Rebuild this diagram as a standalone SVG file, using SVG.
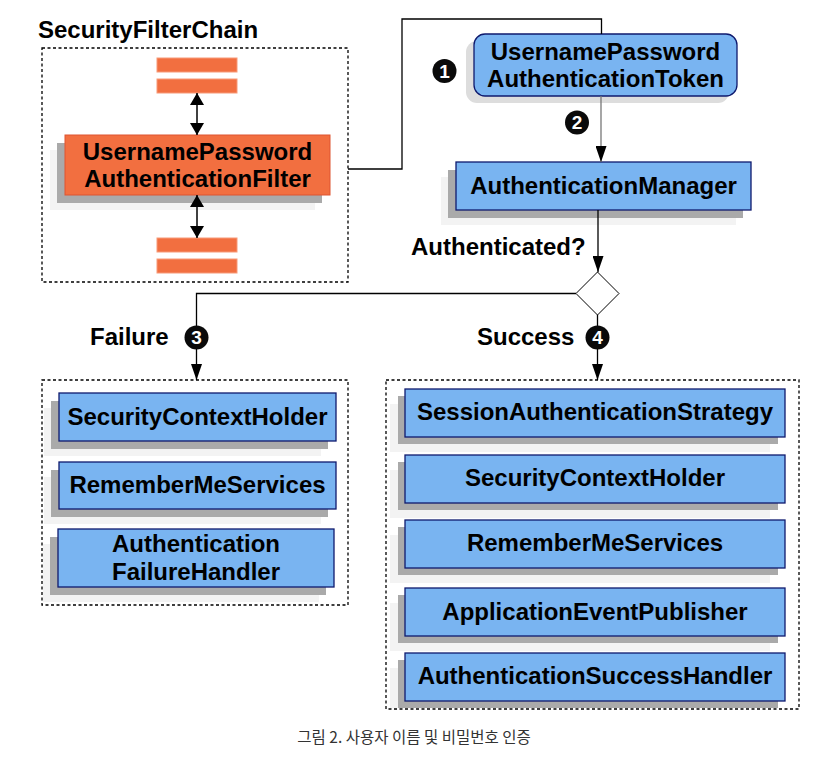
<svg xmlns="http://www.w3.org/2000/svg" width="837" height="759" viewBox="0 0 837 759">
<style>
.t{font-family:"Liberation Sans",Arial,sans-serif;font-weight:bold;font-size:24px;fill:#000}
.c{text-anchor:middle}
.blue{fill:#79b4f1;stroke:#0f1a6e;stroke-width:1.3}
.org{fill:#f26f40;stroke:#de5530;stroke-width:1}
.bar{fill:#f26f40;stroke:#f79a78;stroke-width:1}
.sh1{fill:#aaaaaa}
.sh2{fill:#f3f3f3}
.dash{fill:none;stroke:#000;stroke-width:1.3;stroke-dasharray:3,2.5}
.ln{fill:none;stroke:#000;stroke-width:1.3}
.badge{fill:#0a0a0a}
.bn{font-family:"Liberation Sans",Arial,sans-serif;font-weight:bold;font-size:19px;fill:#fff;text-anchor:middle}
</style>
<defs>
<marker id="ah" markerUnits="userSpaceOnUse" markerWidth="16" markerHeight="11" refX="16" refY="5.5" orient="auto"><path d="M0,0 L16,5.5 L0,11 z" fill="#000"/></marker>
<marker id="dh" markerUnits="userSpaceOnUse" markerWidth="12" markerHeight="14" refX="12" refY="7" orient="auto-start-reverse"><path d="M0,0 L12,7 L0,14 z" fill="#000"/></marker>
</defs>
<rect width="837" height="759" fill="#fff"/>

<g id="chain">
<text class="t" x="38" y="38">SecurityFilterChain</text>
<rect class="dash" x="42" y="48" width="306" height="234"/>
<rect class="bar" x="157" y="58" width="80" height="14"/>
<rect class="bar" x="157" y="79" width="80" height="14"/>
<rect class="bar" x="157" y="238" width="80" height="14"/>
<rect class="bar" x="157" y="259" width="80" height="14"/>
</g>

<g id="filter">
<rect class="sh2" x="50" y="150" width="265" height="60"/>
<rect class="sh1" x="57" y="143" width="265" height="60"/>
<rect class="org" x="65" y="135" width="265" height="60"/>
<text class="t c" x="197.5" y="160">UsernamePassword</text>
<text class="t c" x="197.5" y="187">AuthenticationFilter</text>
</g>

<g id="token">
<rect x="466" y="41" width="263" height="62" rx="11" fill="#dddddd"/>
<rect class="blue" x="474" y="34" width="263" height="62" rx="11"/>
<text class="t c" x="605.5" y="60">UsernamePassword</text>
<text class="t c" x="605.5" y="87">AuthenticationToken</text>
</g>

<g id="manager">
<rect class="sh2" x="441" y="177" width="295" height="48"/>
<rect class="sh1" x="448" y="170" width="295" height="48"/>
<rect class="blue" x="456" y="162" width="295" height="48"/>
<text class="t c" x="603.5" y="194">AuthenticationManager</text>
</g>

<g id="decision">
<text class="t" x="411" y="255">Authenticated?</text>
<path d="M597.5,272 L619,293.5 L597.5,315 L576,293.5 z" fill="#fff" stroke="#000" stroke-width="1"/>
</g>

<g id="connectors">
<path class="ln" d="M348,169 H402 V19 H601.5 V34"/>
<line x1="197" y1="93" x2="197" y2="135" stroke="#000" stroke-width="1.5" marker-start="url(#dh)" marker-end="url(#dh)"/>
<line x1="197" y1="195" x2="197" y2="238" stroke="#000" stroke-width="1.5" marker-start="url(#dh)" marker-end="url(#dh)"/>
<line x1="601" y1="96" x2="601" y2="162" stroke="#777" stroke-width="1.3" marker-end="url(#ah)"/>
<line class="ln" x1="598" y1="210" x2="598" y2="272" marker-end="url(#ah)"/>
<path class="ln" d="M576,293.5 H196.5 V380" marker-end="url(#ah)"/>
<line class="ln" x1="597.5" y1="315" x2="597.5" y2="380" marker-end="url(#ah)"/>
</g>

<g id="badges">
<circle class="badge" cx="444.5" cy="71" r="12"/><text class="bn" x="444.5" y="77.5">1</text>
<circle class="badge" cx="577" cy="122.5" r="12"/><text class="bn" x="577" y="129">2</text>
<circle class="badge" cx="196.5" cy="337.5" r="12"/><text class="bn" x="196.5" y="344">3</text>
<circle class="badge" cx="597.5" cy="337.5" r="12"/><text class="bn" x="597.5" y="344">4</text>
<text class="t" x="90" y="345">Failure</text>
<text class="t" x="477" y="345">Success</text>
</g>

<g id="failure">
<rect class="dash" x="42" y="380" width="306" height="225"/>
<g id="f-sch">
<rect class="sh2" x="44" y="408" width="277" height="48"/>
<rect class="sh1" x="51" y="401" width="277" height="48"/>
<rect class="blue" x="59" y="393" width="277" height="48"/>
<text class="t c" x="197.5" y="425">SecurityContextHolder</text>
</g>
<g id="f-rms">
<rect class="sh2" x="44" y="477" width="277" height="47"/>
<rect class="sh1" x="51" y="470" width="277" height="47"/>
<rect class="blue" x="59" y="462" width="277" height="47"/>
<text class="t c" x="197.5" y="493">RememberMeServices</text>
</g>
<g id="f-afh">
<rect class="sh2" x="43" y="544" width="276" height="58"/>
<rect class="sh1" x="50" y="537" width="276" height="58"/>
<rect class="blue" x="58" y="529" width="276" height="58"/>
<text class="t c" x="196" y="552">Authentication</text>
<text class="t c" x="196" y="580">FailureHandler</text>
</g>
</g>

<g id="success">
<rect class="dash" x="386" y="380" width="413" height="329"/>
<g id="s-sas">
<rect class="sh2" x="390" y="404" width="380" height="48"/>
<rect class="sh1" x="398" y="396" width="380" height="48"/>
<rect class="blue" x="405" y="389" width="380" height="48"/>
<text class="t c" x="595" y="420">SessionAuthenticationStrategy</text>
</g>
<g id="s-sch">
<rect class="sh2" x="390" y="470" width="380" height="48"/>
<rect class="sh1" x="398" y="462" width="380" height="48"/>
<rect class="blue" x="405" y="455" width="380" height="48"/>
<text class="t c" x="595" y="486">SecurityContextHolder</text>
</g>
<g id="s-rms">
<rect class="sh2" x="390" y="535" width="380" height="48"/>
<rect class="sh1" x="398" y="527" width="380" height="48"/>
<rect class="blue" x="405" y="520" width="380" height="48"/>
<text class="t c" x="595" y="551">RememberMeServices</text>
</g>
<g id="s-aep">
<rect class="sh2" x="390" y="603" width="380" height="48"/>
<rect class="sh1" x="398" y="595" width="380" height="48"/>
<rect class="blue" x="405" y="588" width="380" height="48"/>
<text class="t c" x="595" y="620">ApplicationEventPublisher</text>
</g>
<g id="s-ash">
<rect class="sh2" x="390" y="668" width="380" height="40"/>
<rect class="sh1" x="398" y="660" width="380" height="48"/>
<rect class="blue" x="405" y="653" width="380" height="48"/>
<text class="t c" x="595" y="684">AuthenticationSuccessHandler</text>
</g>
</g>

<text x="414" y="743" text-anchor="middle" font-family="'Noto Sans CJK KR','Noto Sans',sans-serif" font-size="15.5" fill="#333">그림 2. 사용자 이름 및 비밀번호 인증</text>
</svg>
